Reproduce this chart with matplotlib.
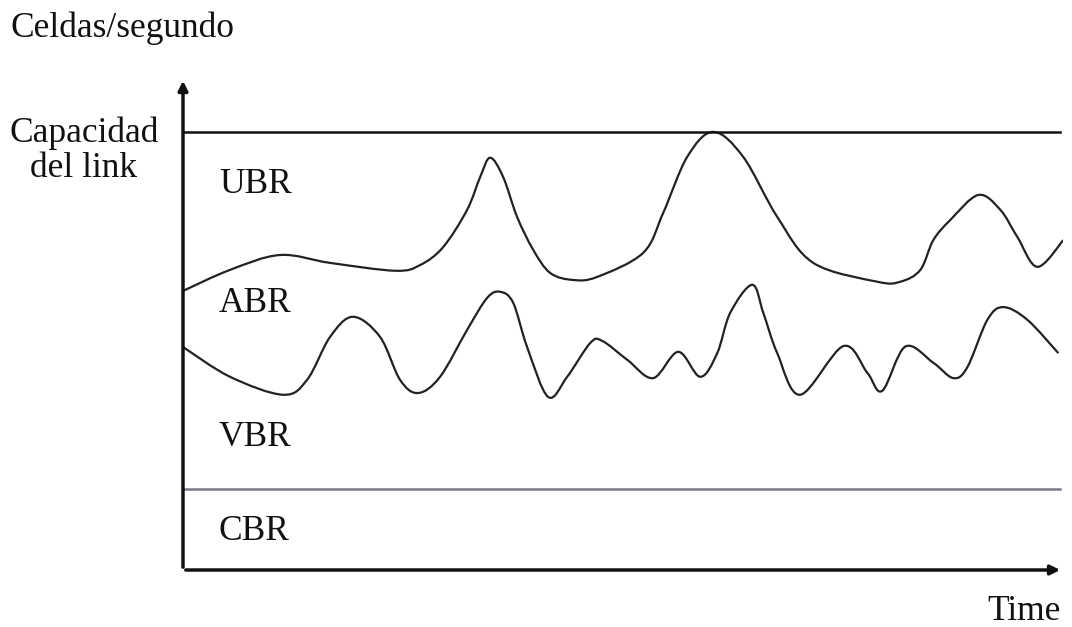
import numpy as np
from matplotlib import pyplot as plt
from matplotlib.path import Path
from matplotlib.patches import PathPatch

plt.rcParams['font.family'] = ['Liberation Serif', 'DejaVu Serif']

# time axis 0..100, rate axis: link capacity = 100
capacity = 100
cbr_level = 18.5

ubr_x = [0, 5.36, 11.06, 16.76, 24.2, 27.02, 29.65, 32.38, 33.87, 35.01, 36.49, 38.08, 39.91,
         41.85, 44.47, 47.21, 52.45, 54.73, 57.47, 60.43, 63.85, 67.73, 71.84, 79.13, 81.76,
         84.04, 85.52, 87.46, 90.65, 93.16, 95.10, 97.38, 100.34]
ubr_y = [63.7, 68.5, 71.9, 70.1, 68.3, 69.6, 73.7, 82.2, 89.7, 94.1, 89.7, 80.6, 73.1,
         67.8, 66.2, 66.9, 72.4, 81.5, 94.3, 100, 94.3, 80.6, 70.1, 65.8, 65.8,
         68.5, 75.3, 79.9, 85.6, 82.2, 76.0, 69.2, 75.3]

abr_x = [0, 5.36, 11.40, 14.14, 16.76, 19.38, 22.46, 24.74, 26.80, 29.30, 32.38, 34.66, 36.15,
         37.63, 39.22, 41.62, 43.79, 46.41, 47.78, 50.68, 53.59, 56.44, 58.95, 60.89,
         62.37, 64.88, 66.14, 67.73, 70.35, 75.26, 78.0, 79.70, 82.33, 85.52, 87.80,
         89.40, 91.68, 93.50, 96.24, 99.77]
abr_y = [50.9, 44.1, 40.0, 43.4, 53.2, 57.8, 53.2, 43.4, 40.4, 44.1, 54.8, 62.1, 63.5,
         61.0, 50.9, 39.5, 44.1, 51.8, 52.3, 47.9, 43.8, 49.8, 44.1, 49.5,
         58.7, 65.1, 58.7, 49.5, 40.0, 51.1, 45.0, 40.9, 51.0, 47.3, 43.8,
         46.3, 57.1, 60.0, 57.1, 49.5]


def smooth_path(xs, ys):
    # Catmull-Rom through the points, drawn as cubic Bezier segments
    p = np.column_stack([xs, ys])
    verts = [p[0]]
    codes = [Path.MOVETO]
    n = len(p)
    for i in range(n - 1):
        p0 = p[max(i - 1, 0)]
        p1 = p[i]
        p2 = p[i + 1]
        p3 = p[min(i + 2, n - 1)]
        verts += [p1 + (p2 - p0) / 6, p2 - (p3 - p1) / 6, p2]
        codes += [Path.CURVE4] * 3
    return Path(verts, codes)


fig = plt.figure(figsize=(10.72, 6.27), dpi=100)
ax = fig.add_axes([183 / 1072, 57 / 627, 880 / 1072, 492 / 627])
ax.set_xlim(0, 100.3)
ax.set_ylim(0, 112.3)
ax.axis('off')

# axes with arrow heads
ax.annotate('', xy=(0, 112.3), xytext=(0, 0),
            arrowprops=dict(arrowstyle='-|>', color='#111111', lw=2.5, mutation_scale=14))
ax.annotate('', xy=(100.3, 0), xytext=(0, 0),
            arrowprops=dict(arrowstyle='-|>', color='#111111', lw=2.5, mutation_scale=14))

ax.plot([0, 100], [capacity, capacity], color='#111111', lw=1.8)
ax.plot([0, 100], [cbr_level, cbr_level], color='#7d7589', lw=1.8)

for xs, ys in [(ubr_x, ubr_y), (abr_x, abr_y)]:
    ax.add_patch(PathPatch(smooth_path(xs, ys), facecolor='none', edgecolor='#222222', lw=1.6))

fs = 25.5
fig.text(10 / 1072, 1 - 28 / 627, 'Celdas/segundo', fontsize=fs, va='center', ha='left', color='#111111')
fig.text(84 / 1072, 1 - 133 / 627, 'Capacidad', fontsize=fs, va='center', ha='center', color='#111111')
fig.text(83 / 1072, 1 - 168 / 627, 'del link', fontsize=fs, va='center', ha='center', color='#111111')
fig.text(1024 / 1072, 1 - 612 / 627, 'Time', fontsize=fs, va='center', ha='center', color='#111111')
for label, yp in [('UBR', 185), ('ABR', 303), ('VBR', 437), ('CBR', 532)]:
    fig.text(219 / 1072, 1 - yp / 627, label, fontsize=fs, va='center', ha='left', color='#111111')

fig.savefig('out.png', dpi=100)
